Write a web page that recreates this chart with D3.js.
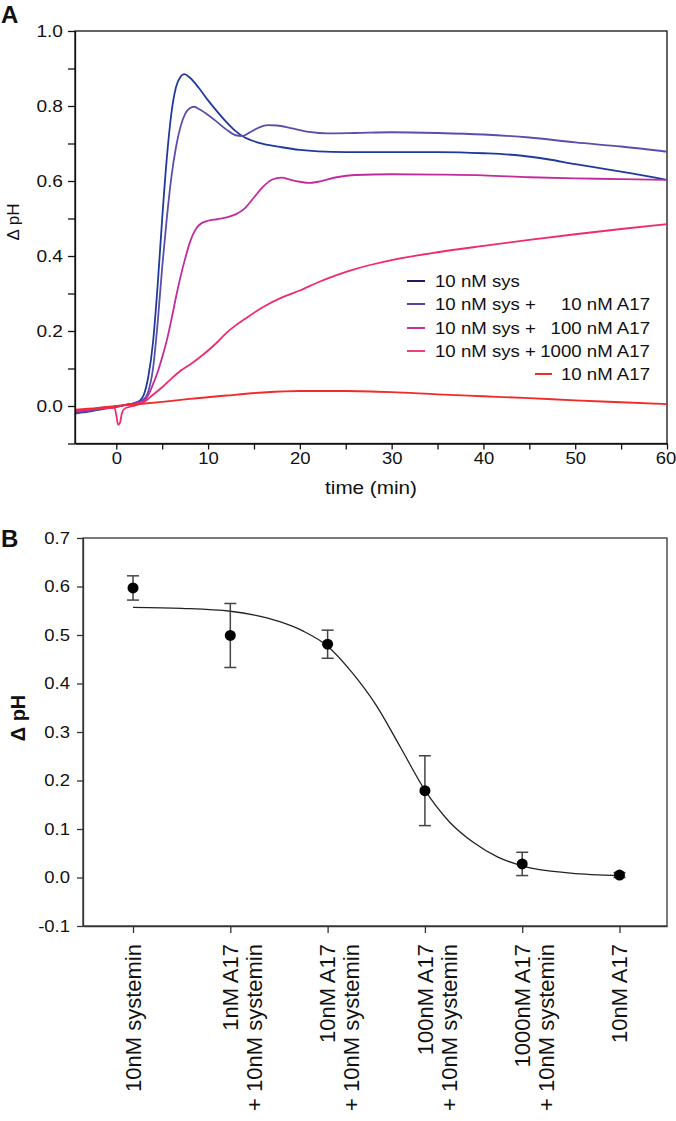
<!DOCTYPE html>
<html><head><meta charset="utf-8">
<script src="https://cdn.jsdelivr.net/npm/d3@7"></script>
<style>
body{margin:0;background:#fff}
svg{display:block}
text{font-family:"Liberation Sans",Arial,sans-serif;fill:#111}
</style>
</head><body>
<svg id="c" width="676" height="1121"></svg>
<script>
// ---------- Panel A data (time in min, ΔpH) ----------
const seriesNames = ["10 nM sys", "10 nM sys + 10 nM A17", "10 nM sys + 100 nM A17", "10 nM sys + 1000 nM A17", "10 nM A17"];
const sys10 = [[-4.5,-0.02],[-3,-0.015],[-1.5,-0.008],[0,-0.002],[1,0.003],[2,0.008],[2.6,0.015],[3,0.03],[3.5,0.08],[4,0.17],[4.5,0.32],[5,0.5],[5.5,0.66],[6,0.78],[6.5,0.85],[7,0.878],[7.4,0.885],[8,0.876],[9,0.848],[10,0.815],[11,0.785],[12,0.757],[13,0.733],[14,0.716],[15,0.706],[16,0.699],[18,0.69],[20,0.683],[22,0.679],[25,0.677],[30,0.677],[35,0.677],[40,0.674],[44,0.668],[47,0.658],[50,0.645],[53,0.633],[56,0.621],[60,0.603]];
const sysA10 = [[-4.5,-0.018],[-3,-0.013],[-1.5,-0.007],[0,-0.002],[1,0.003],[2,0.008],[3,0.018],[3.5,0.04],[4,0.1],[4.5,0.22],[5,0.37],[5.5,0.5],[6,0.61],[6.5,0.69],[7,0.745],[7.5,0.779],[8,0.794],[8.5,0.798],[9,0.792],[10,0.776],[11,0.757],[12,0.737],[13,0.722],[13.7,0.72],[14.5,0.729],[15.5,0.742],[16.5,0.749],[17.5,0.748],[19,0.741],[21,0.731],[23,0.727],[26,0.728],[30,0.73],[35,0.728],[40,0.724],[45,0.716],[50,0.703],[55,0.692],[60,0.678]];
const sysA100 = [[-4.5,-0.015],[-3,-0.01],[-1.5,-0.005],[0,-0.001],[1,0.003],[2,0.007],[3,0.014],[3.5,0.03],[4,0.058],[4.5,0.09],[5,0.13],[5.5,0.175],[6,0.23],[6.5,0.29],[7,0.345],[7.5,0.393],[8,0.435],[8.5,0.465],[9,0.482],[10,0.494],[11,0.498],[12,0.503],[13,0.511],[14,0.527],[15,0.556],[16,0.585],[17,0.604],[18,0.609],[19,0.603],[20,0.598],[21,0.595],[22,0.598],[24,0.61],[26,0.616],[30,0.618],[35,0.617],[40,0.615],[45,0.61],[50,0.607],[55,0.605],[60,0.603]];
const sysA1000 = [[-4.5,-0.012],[-3,-0.009],[-1.5,-0.006],[-0.2,-0.004],[0,-0.025],[0.2,-0.05],[0.4,-0.045],[0.6,-0.02],[0.9,-0.007],[1.5,-0.002],[2,0.001],[3,0.01],[4,0.03],[5,0.05],[6,0.073],[7,0.094],[8,0.11],[9,0.128],[10,0.148],[11,0.17],[12,0.195],[13,0.215],[14,0.232],[16,0.264],[18,0.289],[20,0.308],[22,0.33],[24,0.349],[26,0.365],[28,0.378],[30,0.389],[35,0.41],[40,0.427],[45,0.443],[50,0.458],[55,0.472],[60,0.485]];
const a17only = [[-4.5,-0.01],[-2,-0.005],[0,0],[2,0.004],[5,0.011],[8,0.019],[12,0.028],[16,0.036],[20,0.04],[25,0.04],[30,0.037],[35,0.031],[40,0.026],[45,0.021],[50,0.015],[55,0.01],[60,0.005]];
const xTicksA = [0,5,10,15,20,25,30,35,40,45,50,55,60];
const yTicksA = [-0.1,0,0.1,0.2,0.3,0.4,0.5,0.6,0.7,0.8,0.9,1.0];
const legendLeft = ["10 nM sys","10 nM sys +","10 nM sys +","10 nM sys +",""];
const legendRight = ["","10 nM A17","100 nM A17","1000 nM A17","10 nM A17"];

// ---------- Panel B data ----------
const catLine1 = ["10nM systemin","1nM A17","10nM A17","100nM A17","1000nM A17","10nM A17"];
const catLine2 = ["","+ 10nM systemin","+ 10nM systemin","+ 10nM systemin","+ 10nM systemin",""];
const meanPH = [0.597,0.499,0.481,0.179,0.028,0.005];
const errPH = [0.025,0.066,0.029,0.072,0.024,0.005];
const fitX = [0,0.5,1,1.25,1.5,1.75,2,2.25,2.5,2.75,3,3.25,3.5,3.75,4,4.5,5];
const fitY = [0.557,0.555,0.549,0.541,0.528,0.508,0.477,0.423,0.355,0.268,0.18,0.115,0.072,0.042,0.024,0.009,0.004];
const yTicksB = [-0.1,0,0.1,0.2,0.3,0.4,0.5,0.6,0.7];

const svg = d3.select("#c");
function stretch(sel, k){
  sel.each(function(){
    const t = d3.select(this);
    const x = +t.attr("x")||0, y = +t.attr("y")||0;
    t.attr("x",null).attr("y",null).attr("transform",`translate(${x},${y}) scale(${k},1)`);
  });
}

// ================= Panel A =================
const xA = d3.scaleLinear().domain([-4.5,60]).range([75,667]);
const yA = d3.scaleLinear().domain([-0.1,1.0]).range([443.5,31]);
const gA = svg.append("g");
gA.append("rect").attr("x",75).attr("y",31).attr("width",667-75).attr("height",443.5-31)
  .attr("fill","none").attr("stroke","#111").attr("stroke-width",1.3);

const colorsA = ["#1f3a9c","#5a4eac","#c42a9c","#f02a6c","#f22a2a"];
const dataA = [sys10, sysA10, sysA100, sysA1000, a17only];
const lineA = d3.line().x(d=>xA(d[0])).y(d=>yA(d[1])).curve(d3.curveMonotoneX);
dataA.forEach((s,i)=>{
  gA.append("path").attr("d",lineA(s)).attr("fill","none")
    .attr("stroke",colorsA[i]).attr("stroke-width",1.8).attr("stroke-linejoin","round");
});

const axA = gA.append("g").attr("transform","translate(0,443.5)")
  .call(d3.axisBottom(xA).tickValues(xTicksA).tickFormat(d=>d%10===0?d:"").tickSize(6).tickSizeOuter(0).tickPadding(3));
const ayA = gA.append("g").attr("transform","translate(75,0)")
  .call(d3.axisLeft(yA).tickValues(yTicksA).tickFormat(d=>{const r=Math.round(d*10);return (r%2===0 && r>=0)?d.toFixed(1):"";}).tickSize(7).tickSizeOuter(0).tickPadding(5));
[axA,ayA].forEach(a=>{
  a.selectAll("path.domain").attr("stroke","#111").attr("stroke-width",1.3);
  a.selectAll(".tick line").attr("stroke","#111").attr("stroke-width",1.3);
  a.selectAll("text").attr("font-size",16.5).attr("font-family","Liberation Sans, Arial, sans-serif").attr("fill","#222");
});
// keep the last x label inside the picture
axA.selectAll(".tick text").filter(d=>d===60).attr("x",-1.5);
stretch(axA.selectAll("text"),1.12);
stretch(ayA.selectAll("text"),1.16);

gA.append("text").attr("transform","translate(371,494) scale(1.15,1)").attr("text-anchor","middle")
  .attr("font-size",18).attr("fill","#222").text("time (min)");
gA.append("text").attr("transform","translate(13,222) rotate(-90)").attr("text-anchor","middle")
  .attr("dy","0.35em").attr("font-size",17).attr("fill","#222").text("Δ pH");
gA.append("text").attr("x",1).attr("y",23).attr("font-size",24).attr("font-weight","bold").text("A");

// legend
const legRows = [281,304,328,351,374];
const legLineCols = ["#1c1c66","#4a44a2","#c2309c","#ec3c84","#ee2a2a"];
legRows.forEach((ry,i)=>{
  const x0 = i<4 ? 407 : 535, x1 = i<4 ? 425 : 552;
  gA.append("line").attr("x1",x0).attr("x2",x1).attr("y1",ry).attr("y2",ry)
    .attr("stroke",legLineCols[i]).attr("stroke-width",2);
  if (legendLeft[i]) gA.append("text").attr("transform",`translate(435,${ry+6}) scale(1.13,1)`)
    .attr("font-size",16.5).attr("fill","#222").text(legendLeft[i]);
  if (legendRight[i]) gA.append("text").attr("transform",`translate(650,${ry+6}) scale(1.13,1)`)
    .attr("text-anchor","end").attr("font-size",16.5).attr("fill","#222").text(legendRight[i]);
});

// ================= Panel B =================
const xB = d3.scaleLinear().domain([-0.514,5.488]).range([83,667]);
const yB = d3.scaleLinear().domain([-0.1,0.7]).range([926,538]);
const gB = svg.append("g");
gB.append("rect").attr("x",83).attr("y",538).attr("width",667-83).attr("height",926-538)
  .attr("fill","none").attr("stroke","#333").attr("stroke-width",1.3);

const axB = gB.append("g").attr("transform","translate(0,926)")
  .call(d3.axisBottom(xB).tickValues(d3.range(catLine1.length)).tickFormat("").tickSize(7).tickSizeOuter(0));
const ayB = gB.append("g").attr("transform","translate(83,0)")
  .call(d3.axisLeft(yB).tickValues(yTicksB).tickFormat(d=>d.toFixed(1)).tickSize(6).tickSizeOuter(0).tickPadding(7));
[axB,ayB].forEach(a=>{
  a.selectAll("path.domain").attr("stroke","#333").attr("stroke-width",1.3);
  a.selectAll(".tick line").attr("stroke","#333").attr("stroke-width",1.3);
  a.selectAll("text").attr("font-size",16.5).attr("font-family","Liberation Sans, Arial, sans-serif").attr("fill","#222");
});
stretch(ayB.selectAll("text"),1.12);

// category labels
catLine1.forEach((l1,i)=>{
  const g = gB.append("g").attr("transform",`translate(${xB(i)},944) rotate(-90)`);
  g.append("text").attr("x",0).attr("y",0).attr("dy","0.35em").attr("text-anchor","end")
    .attr("font-size",22).attr("fill","#222").text(l1);
  if (catLine2[i]) g.append("text").attr("x",0).attr("y",24).attr("dy","0.35em").attr("text-anchor","end")
    .attr("font-size",22).attr("fill","#222").text(catLine2[i]);
});

// fit curve
const fitPts = fitX.map((x,i)=>[x,fitY[i]]);
gB.append("path").attr("d",d3.line().x(d=>xB(d[0])).y(d=>yB(d[1])).curve(d3.curveMonotoneX)(fitPts))
  .attr("fill","none").attr("stroke","#222").attr("stroke-width",1.3);

// error bars and points
meanPH.forEach((m,i)=>{
  const cx = xB(i), lo = yB(m-errPH[i]), hi = yB(m+errPH[i]);
  gB.append("line").attr("x1",cx).attr("x2",cx).attr("y1",lo).attr("y2",hi).attr("stroke","#444").attr("stroke-width",1.5);
  [lo,hi].forEach(yy=>gB.append("line").attr("x1",cx-6).attr("x2",cx+6).attr("y1",yy).attr("y2",yy).attr("stroke","#444").attr("stroke-width",1.5));
  gB.append("circle").attr("cx",cx).attr("cy",yB(m)).attr("r",5.5).attr("fill","#000");
});

gB.append("text").attr("transform","translate(18,718) rotate(-90)").attr("text-anchor","middle")
  .attr("dy","0.35em").attr("font-size",20).attr("font-weight","bold").attr("fill","#222").text("Δ pH");
gB.append("text").attr("x",1).attr("y",547).attr("font-size",24).attr("font-weight","bold").text("B");
</script>
</body></html>
